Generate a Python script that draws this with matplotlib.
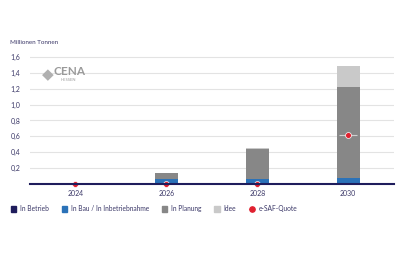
"""e-SAF Kapazitaeten nach Status, Balkendiagramm mit Quote."""

import matplotlib

matplotlib.use("Agg")
import matplotlib.pyplot as plt
from matplotlib.lines import Line2D
from matplotlib.patches import Patch

YEARS = ["2024", "2026", "2028", "2030"]
IN_BETRIEB = [0.0, 0.0, 0.0, 0.0]
IN_BAU = [0.0, 0.065, 0.067, 0.07]
IN_PLANUNG = [0.0, 0.075, 0.373, 1.15]
IDEE = [0.0, 0.0, 0.01, 0.27]
QUOTE = [0.0, 0.0, 0.0, 0.62]
Y_TICKS = [0.2, 0.4, 0.6, 0.8, 1.0, 1.2, 1.4, 1.6]

NAVY = "#1f1d5c"
BLUE = "#2b72b8"
GREY = "#878787"
LIGHT = "#c9c9c9"
RED = "#e0202f"
TEXT = "#3b3868"

plt.rcParams["font.family"] = ["Lato", "DejaVu Sans"]

fig = plt.figure(figsize=(4, 2.67), dpi=100, facecolor="white")
ax = fig.add_axes([0.075, 0.311, 0.909, 0.4906])

x = list(range(len(YEARS)))
w = 0.25
bottom = [0.0] * len(x)
for vals, col in [(IN_BETRIEB, NAVY), (IN_BAU, BLUE), (IN_PLANUNG, GREY), (IDEE, LIGHT)]:
    ax.bar(x, vals, width=w, bottom=bottom, color=col, edgecolor="none", zorder=2)
    bottom = [b + v for b, v in zip(bottom, vals)]

# e-SAF-Quote: Marker mit kurzem Strich
ax.scatter(x, QUOTE, marker="_", s=180, c="#d0d0d0", linewidths=0.8, zorder=3)
ax.scatter(x, QUOTE, marker="o", s=18, c=RED, edgecolors="white", linewidths=0.5,
           zorder=4, clip_on=False)

ax.set_xlim(-0.5, 3.5)
ax.set_ylim(0, 1.65)
ax.set_yticks(Y_TICKS)
ax.set_yticklabels([f"{v:.1f}".replace(".", ",") for v in Y_TICKS])
ax.set_xticks(x)
ax.set_xticklabels(YEARS)
ax.tick_params(axis="both", length=0, labelsize=5, colors=TEXT)
ax.tick_params(axis="y", pad=7)
ax.tick_params(axis="x", pad=4)
ax.grid(axis="y", color="#e3e3e3", linewidth=0.8, zorder=0)
for s in ["top", "right", "left"]:
    ax.spines[s].set_visible(False)
ax.spines["bottom"].set_color(NAVY)
ax.spines["bottom"].set_linewidth(1.5)
ax.spines["bottom"].set_zorder(5)

fig.text(0.025, 0.835, "Millionen Tonnen", fontsize=4.5, color=TEXT)

# Logo
fig.text(0.135, 0.72, "CENA", fontsize=8.5, color="#9a9a9a", fontweight="bold")
fig.text(0.152, 0.695, "HESSEN", fontsize=3, color="#9a9a9a")
fig.text(0.105, 0.705, "\u25c6", fontsize=11, color="#b0b0b0")

handles = [
    Patch(color=NAVY, label="In Betrieb"),
    Patch(color=BLUE, label="In Bau / In Inbetriebnahme"),
    Patch(color=GREY, label="In Planung"),
    Patch(color=LIGHT, label="Idee"),
    Line2D([0], [0], color="#f0a0a0", marker="o", markersize=3.8,
           markerfacecolor=RED, markeredgecolor=RED, linewidth=0.8, label="e-SAF-Quote"),
]
fig.legend(handles=handles, loc="center left", bbox_to_anchor=(0.012, 0.218), ncol=5,
           frameon=False, fontsize=4.8, labelcolor=TEXT, handlelength=0.8,
           handleheight=0.8, handletextpad=0.6, columnspacing=1.9)

fig.savefig("out.png", dpi=100, facecolor="white")
